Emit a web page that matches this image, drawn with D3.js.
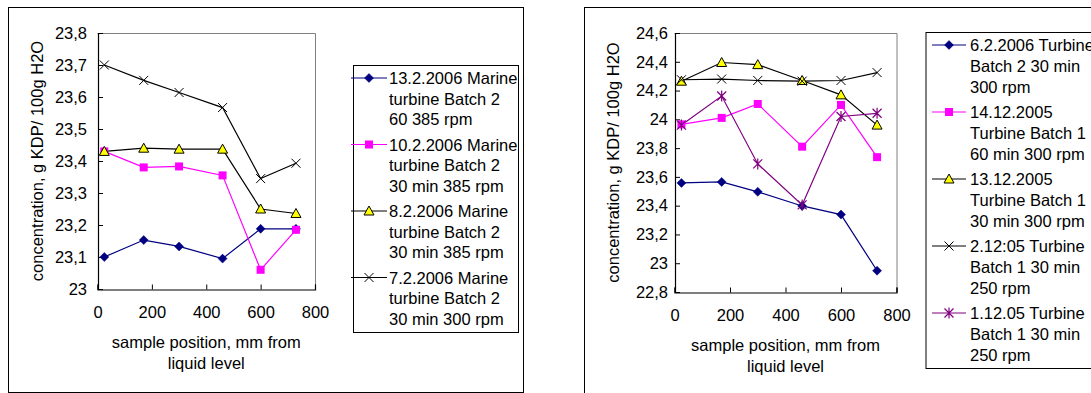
<!DOCTYPE html>
<html>
<head>
<meta charset="utf-8">
<script src="https://cdn.jsdelivr.net/npm/d3@7"></script>
<style>
  html, body { margin: 0; padding: 0; background: #fff; }
  svg { display: block; font-family: "Liberation Sans", Arial, sans-serif; }
</style>
</head>
<body>
<svg id="chart" width="1091" height="393"></svg>
<script>
// Sample positions (mm from liquid level)
const positions = [25, 170, 300, 460, 600, 730];

// Marine turbine, batch 2 (left panel)
const marine13Feb = [23.10, 23.153, 23.133, 23.095, 23.188, 23.188];
const marine10Feb = [23.43, 23.38, 23.383, 23.355, 23.06, 23.185];
const marine8Feb  = [23.43, 23.44, 23.437, 23.437, 23.25, 23.236];
const marine7Feb  = [23.70, 23.652, 23.614, 23.567, 23.345, 23.393];

// Turbine, batches 1 and 2 (right panel)
const turbine6Feb  = [23.558, 23.565, 23.496, 23.398, 23.338, 22.948];
const turbine14Dec = [23.965, 24.01, 24.107, 23.81, 24.10, 23.737];
const turbine13Dec = [24.265, 24.395, 24.38, 24.27, 24.17, 23.96];
const turbine2Dec  = [24.275, 24.28, 24.27, 24.265, 24.27, 24.325];
const turbine1Dec  = [23.96, 24.162, 23.69, 23.405, 24.02, 24.042];

const leftLegend = [
  ["13.2.2006 Marine", "turbine Batch 2", "60 385 rpm"],
  ["10.2.2006 Marine", "turbine Batch 2", "30 min 385 rpm"],
  ["8.2.2006 Marine", "turbine Batch 2", "30 min 385 rpm"],
  ["7.2.2006 Marine", "turbine Batch 2", "30 min 300 rpm"]
];
const rightLegend = [
  ["6.2.2006 Turbine", "Batch 2 30 min", "300 rpm"],
  ["14.12.2005", "Turbine Batch 1", "60 min 300 rpm"],
  ["13.12.2005", "Turbine Batch 1", "30 min 300 rpm"],
  ["2.12:05 Turbine", "Batch 1 30 min", "250 rpm"],
  ["1.12.05 Turbine", "Batch 1 30 min", "250 rpm"]
];

const xTicks = [0, 200, 400, 600, 800];
const leftYTicks = [23, 23.1, 23.2, 23.3, 23.4, 23.5, 23.6, 23.7, 23.8];
const leftYLabels = ["23", "23,1", "23,2", "23,3", "23,4", "23,5", "23,6", "23,7", "23,8"];
const rightYTicks = [22.8, 23, 23.2, 23.4, 23.6, 23.8, 24, 24.2, 24.4, 24.6];
const rightYLabels = ["22,8", "23", "23,2", "23,4", "23,6", "23,8", "24", "24,2", "24,4", "24,6"];

const yTitle = "concentration, g KDP/ 100g H2O";
const xTitle = ["sample position, mm from", "liquid level"];

const FONT = 16.5;
const svg = d3.select("#chart");

// Marker drawing helpers
function drawMarker(g, type, x, y) {
  if (type === "diamond") {
    const r = 4.5;
    g.append("path").attr("d", `M${x},${y - r}L${x + r},${y}L${x},${y + r}L${x - r},${y}Z`)
      .attr("fill", "#000080").attr("stroke", "#000080").attr("stroke-width", 0.5);
  } else if (type === "square") {
    const r = 4;
    g.append("rect").attr("x", x - r).attr("y", y - r).attr("width", 2 * r).attr("height", 2 * r)
      .attr("fill", "#ff00ff");
  } else if (type === "triangle") {
    const r = 5;
    g.append("path").attr("d", `M${x},${y - r}L${x + r},${y + r * 0.8}L${x - r},${y + r * 0.8}Z`)
      .attr("fill", "#ffff00").attr("stroke", "#000").attr("stroke-width", 1);
  } else if (type === "cross") {
    const r = 4.5;
    g.append("path").attr("d", `M${x - r},${y - r}L${x + r},${y + r}M${x - r},${y + r}L${x + r},${y - r}`)
      .attr("fill", "none").attr("stroke", "#000").attr("stroke-width", 1);
  } else if (type === "star") {
    const r = 4.5;
    g.append("path").attr("d", `M${x - r},${y - r}L${x + r},${y + r}M${x - r},${y + r}L${x + r},${y - r}M${x},${y - r - 1}L${x},${y + r + 1}`)
      .attr("fill", "none").attr("stroke", "#800080").attr("stroke-width", 1.2);
  }
}

function drawPanel(cfg) {
  const g = svg.append("g");
  // chart frame
  g.append("rect")
    .attr("x", cfg.frame[0]).attr("y", cfg.frame[1])
    .attr("width", cfg.frame[2]).attr("height", cfg.frame[3])
    .attr("fill", "#fff").attr("stroke", "#000").attr("stroke-width", 1);

  const p = cfg.plot;
  const x = d3.scaleLinear().domain([0, 800]).range([p.left, p.right]);
  const y = d3.scaleLinear().domain(cfg.yDomain).range([p.bottom, p.top]);

  // plot area border (top/right grey)
  g.append("path")
    .attr("d", `M${p.left},${p.top + 0.5}H${p.right + 0.5}V${p.bottom}`)
    .attr("fill", "none").attr("stroke", "#808080").attr("stroke-width", 1);

  const labelMap = new Map(cfg.yTicks.map((t, i) => [t, cfg.yLabels[i]]));

  const yAxis = g.append("g")
    .attr("transform", `translate(${p.left + 0.5},0)`)
    .call(d3.axisLeft(y).tickValues(cfg.yTicks).tickSize(-5).tickPadding(cfg.yPad)
      .tickFormat(d => labelMap.get(d)));
  const xAxis = g.append("g")
    .attr("transform", `translate(0,${p.bottom + 0.5})`)
    .call(d3.axisBottom(x).tickValues(xTicks).tickSize(-5).tickPadding(17)
      .tickFormat(d3.format("d")));

  [yAxis, xAxis].forEach(a => {
    a.select(".domain").attr("stroke", "#000").attr("stroke-width", 1.2);
    a.selectAll(".tick line").attr("stroke", "#000");
    a.selectAll(".tick text").attr("font-size", FONT).attr("fill", "#000")
      .attr("font-family", "Liberation Sans, Arial, sans-serif");
  });
  xAxis.selectAll(".tick text").attr("dy", "0.71em");

  // axis titles
  g.append("text")
    .attr("transform", `translate(${cfg.yTitleX},${(p.top + p.bottom) / 2}) rotate(-90)`)
    .attr("text-anchor", "middle").attr("dominant-baseline", "central")
    .attr("font-size", FONT).text(yTitle);
  xTitle.forEach((t, i) => {
    g.append("text")
      .attr("x", (p.left + p.right) / 2).attr("y", cfg.xTitleY + i * 21)
      .attr("text-anchor", "middle").attr("dominant-baseline", "central")
      .attr("font-size", FONT).text(t);
  });

  // series lines and markers
  const line = d3.line().x((d, i) => x(positions[i])).y(d => y(d));
  cfg.series.forEach(s => {
    g.append("path").datum(s.values).attr("d", line)
      .attr("fill", "none").attr("stroke", s.line).attr("stroke-width", 1.2);
  });
  cfg.series.forEach(s => {
    const mg = g.append("g");
    s.values.forEach((v, i) => drawMarker(mg, s.marker, x(positions[i]), y(v)));
  });

  // legend
  const L = cfg.legend;
  g.append("rect").attr("x", L.x + 0.5).attr("y", L.y + 0.5).attr("width", L.w).attr("height", L.h)
    .attr("fill", "#fff").attr("stroke", "#000").attr("stroke-width", 1);
  cfg.series.forEach((s, k) => {
    const cy = L.firstY + k * L.step;
    g.append("line").attr("x1", L.lineX0).attr("x2", L.lineX1).attr("y1", cy).attr("y2", cy)
      .attr("stroke", s.line).attr("stroke-width", 1.2);
    drawMarker(g, s.marker, (L.lineX0 + L.lineX1) / 2, cy);
    s.label.forEach((t, j) => {
      g.append("text").attr("x", L.textX).attr("y", cy + j * L.lineH)
        .attr("dominant-baseline", "central").attr("font-size", FONT).text(t);
    });
  });
}

drawPanel({
  frame: [8.5, 7.5, 515, 385],
  plot: { left: 97.5, right: 315, top: 33, bottom: 289 },
  yDomain: [23, 23.8],
  yTicks: leftYTicks, yLabels: leftYLabels, yPad: 11,
  yTitleX: 37, xTitleY: 342,
  series: [
    { values: marine13Feb, line: "#000080", marker: "diamond", label: leftLegend[0] },
    { values: marine10Feb, line: "#ff00ff", marker: "square", label: leftLegend[1] },
    { values: marine8Feb, line: "#000000", marker: "triangle", label: leftLegend[2] },
    { values: marine7Feb, line: "#000000", marker: "cross", label: leftLegend[3] }
  ],
  legend: { x: 353, y: 65, w: 165, h: 267, firstY: 78, step: 66.5, lineH: 20.5,
            lineX0: 351, lineX1: 387, textX: 389 }
});

drawPanel({
  frame: [584.5, 7.5, 520, 400],
  plot: { left: 674.5, right: 896.5, top: 33, bottom: 292 },
  yDomain: [22.8, 24.6],
  yTicks: rightYTicks, yLabels: rightYLabels, yPad: 7,
  yTitleX: 613, xTitleY: 345,
  series: [
    { values: turbine6Feb, line: "#000080", marker: "diamond", label: rightLegend[0] },
    { values: turbine14Dec, line: "#ff00ff", marker: "square", label: rightLegend[1] },
    { values: turbine13Dec, line: "#000000", marker: "triangle", label: rightLegend[2] },
    { values: turbine2Dec, line: "#000000", marker: "cross", label: rightLegend[3] },
    { values: turbine1Dec, line: "#800080", marker: "star", label: rightLegend[4] }
  ],
  legend: { x: 925.5, y: 32, w: 200, h: 336, firstY: 45, step: 67, lineH: 20.8,
            lineX0: 932, lineX1: 966, textX: 970 }
});
</script>
</body>
</html>
